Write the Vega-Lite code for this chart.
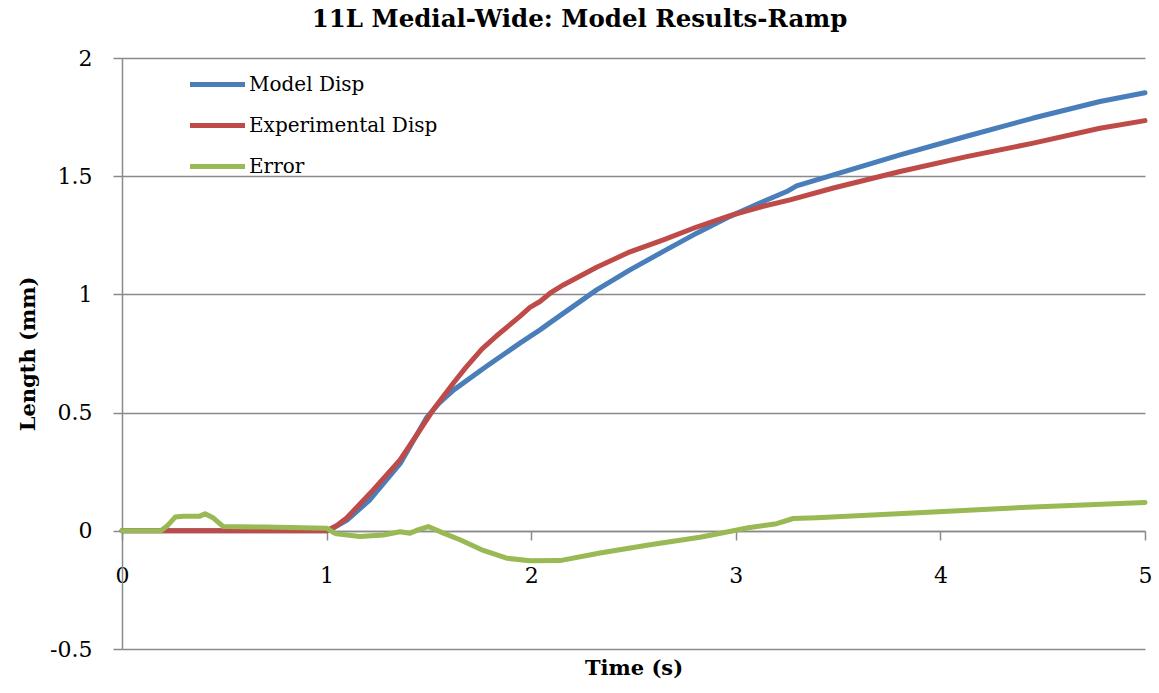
{
  "$schema": "https://vega.github.io/schema/vega-lite/v6.json",
  "width": 1023,
  "height": 591,
  "autosize": {"type": "none"},
  "padding": {"left": 122, "top": 58, "right": 14, "bottom": 44},
  "background": "white",
  "title": {
    "text": "11L Medial-Wide: Model Results-Ramp",
    "font": "DejaVu Serif",
    "fontSize": 24.5,
    "fontWeight": "bold",
    "color": "#000000",
    "anchor": "middle",
    "frame": "group",
    "dx": -54,
    "offset": 15
  },
  "config": {
    "view": {"stroke": null},
    "axis": {
      "labelFont": "DejaVu Serif",
      "labelFontSize": 22,
      "labelColor": "#000000",
      "titleFont": "DejaVu Serif",
      "titleFontSize": 21,
      "titleFontWeight": "bold",
      "titleColor": "#000000",
      "domainColor": "#8a8a8a",
      "domainWidth": 1.5,
      "tickColor": "#8a8a8a",
      "tickWidth": 1.5,
      "gridColor": "#8a8a8a",
      "gridWidth": 1.5
    }
  },
  "data": {
    "values": [
      {"series": "Model Disp", "t": 0, "v": 0},
      {"series": "Model Disp", "t": 1.0, "v": 0},
      {"series": "Model Disp", "t": 1.03, "v": 0.01},
      {"series": "Model Disp", "t": 1.1, "v": 0.045},
      {"series": "Model Disp", "t": 1.21, "v": 0.13},
      {"series": "Model Disp", "t": 1.36, "v": 0.285},
      {"series": "Model Disp", "t": 1.49, "v": 0.48},
      {"series": "Model Disp", "t": 1.55, "v": 0.54},
      {"series": "Model Disp", "t": 1.62, "v": 0.595},
      {"series": "Model Disp", "t": 1.78, "v": 0.695},
      {"series": "Model Disp", "t": 1.945, "v": 0.794},
      {"series": "Model Disp", "t": 2.043, "v": 0.85},
      {"series": "Model Disp", "t": 2.108, "v": 0.89},
      {"series": "Model Disp", "t": 2.32, "v": 1.019},
      {"series": "Model Disp", "t": 2.483, "v": 1.104},
      {"series": "Model Disp", "t": 2.646, "v": 1.182},
      {"series": "Model Disp", "t": 2.809, "v": 1.259},
      {"series": "Model Disp", "t": 2.972, "v": 1.33},
      {"series": "Model Disp", "t": 3.134, "v": 1.393},
      {"series": "Model Disp", "t": 3.249, "v": 1.435},
      {"series": "Model Disp", "t": 3.297, "v": 1.459},
      {"series": "Model Disp", "t": 3.477, "v": 1.506},
      {"series": "Model Disp", "t": 3.803, "v": 1.59},
      {"series": "Model Disp", "t": 4.128, "v": 1.669},
      {"series": "Model Disp", "t": 4.454, "v": 1.746},
      {"series": "Model Disp", "t": 4.78, "v": 1.816},
      {"series": "Model Disp", "t": 5.0, "v": 1.853},
      {"series": "Experimental Disp", "t": 0, "v": 0},
      {"series": "Experimental Disp", "t": 1.0, "v": 0},
      {"series": "Experimental Disp", "t": 1.05, "v": 0.022},
      {"series": "Experimental Disp", "t": 1.098, "v": 0.054},
      {"series": "Experimental Disp", "t": 1.228, "v": 0.173},
      {"series": "Experimental Disp", "t": 1.359, "v": 0.3},
      {"series": "Experimental Disp", "t": 1.457, "v": 0.427},
      {"series": "Experimental Disp", "t": 1.521, "v": 0.512},
      {"series": "Experimental Disp", "t": 1.62, "v": 0.625},
      {"series": "Experimental Disp", "t": 1.68, "v": 0.69},
      {"series": "Experimental Disp", "t": 1.76, "v": 0.77},
      {"series": "Experimental Disp", "t": 1.831, "v": 0.825},
      {"series": "Experimental Disp", "t": 1.945, "v": 0.907},
      {"series": "Experimental Disp", "t": 1.994, "v": 0.945},
      {"series": "Experimental Disp", "t": 2.043, "v": 0.97},
      {"series": "Experimental Disp", "t": 2.1, "v": 1.01},
      {"series": "Experimental Disp", "t": 2.157, "v": 1.04},
      {"series": "Experimental Disp", "t": 2.32, "v": 1.115},
      {"series": "Experimental Disp", "t": 2.483, "v": 1.18},
      {"series": "Experimental Disp", "t": 2.646, "v": 1.231},
      {"series": "Experimental Disp", "t": 2.809, "v": 1.285},
      {"series": "Experimental Disp", "t": 2.972, "v": 1.333},
      {"series": "Experimental Disp", "t": 3.134, "v": 1.373},
      {"series": "Experimental Disp", "t": 3.265, "v": 1.4},
      {"series": "Experimental Disp", "t": 3.477, "v": 1.45},
      {"series": "Experimental Disp", "t": 3.803, "v": 1.52},
      {"series": "Experimental Disp", "t": 4.128, "v": 1.583},
      {"series": "Experimental Disp", "t": 4.454, "v": 1.64},
      {"series": "Experimental Disp", "t": 4.78, "v": 1.703},
      {"series": "Experimental Disp", "t": 5.0, "v": 1.735},
      {"series": "Error", "t": 0, "v": 0},
      {"series": "Error", "t": 0.19, "v": 0},
      {"series": "Error", "t": 0.22, "v": 0.02},
      {"series": "Error", "t": 0.26, "v": 0.058},
      {"series": "Error", "t": 0.3, "v": 0.062},
      {"series": "Error", "t": 0.38, "v": 0.062},
      {"series": "Error", "t": 0.406, "v": 0.072},
      {"series": "Error", "t": 0.447, "v": 0.054},
      {"series": "Error", "t": 0.495, "v": 0.018},
      {"series": "Error", "t": 0.7, "v": 0.016},
      {"series": "Error", "t": 1.0, "v": 0.011},
      {"series": "Error", "t": 1.033, "v": -0.007},
      {"series": "Error", "t": 1.049, "v": -0.013},
      {"series": "Error", "t": 1.163, "v": -0.024},
      {"series": "Error", "t": 1.277, "v": -0.018},
      {"series": "Error", "t": 1.359, "v": -0.004},
      {"series": "Error", "t": 1.408, "v": -0.01},
      {"series": "Error", "t": 1.45, "v": 0.005},
      {"series": "Error", "t": 1.497, "v": 0.018},
      {"series": "Error", "t": 1.571, "v": -0.01},
      {"series": "Error", "t": 1.652, "v": -0.038},
      {"series": "Error", "t": 1.766, "v": -0.083},
      {"series": "Error", "t": 1.88, "v": -0.116},
      {"series": "Error", "t": 1.994, "v": -0.127},
      {"series": "Error", "t": 2.141, "v": -0.126},
      {"series": "Error", "t": 2.336, "v": -0.094},
      {"series": "Error", "t": 2.581, "v": -0.059},
      {"series": "Error", "t": 2.825, "v": -0.027},
      {"series": "Error", "t": 2.988, "v": 0.0},
      {"series": "Error", "t": 3.061, "v": 0.013},
      {"series": "Error", "t": 3.2, "v": 0.03},
      {"series": "Error", "t": 3.281, "v": 0.052},
      {"series": "Error", "t": 3.395, "v": 0.055},
      {"series": "Error", "t": 3.965, "v": 0.08},
      {"series": "Error", "t": 4.454, "v": 0.101},
      {"series": "Error", "t": 5.0, "v": 0.12}
    ]
  },
  "mark": {"type": "line", "strokeWidth": 5, "strokeCap": "round", "strokeJoin": "round"},
  "encoding": {
    "x": {
      "field": "t",
      "type": "quantitative",
      "scale": {"domain": [0, 5], "nice": false, "zero": false},
      "axis": {
        "title": "Time (s)",
        "values": [0, 1, 2, 3, 4, 5],
        "grid": false,
        "offset": -118,
        "tickSize": 9,
        "labelBaseline": "middle",
        "labelPadding": 35,
        "labelFlush": false,
        "labelOverlap": false,
        "titleBaseline": "middle",
        "titleY": 137
      }
    },
    "y": {
      "field": "v",
      "type": "quantitative",
      "scale": {"domain": [-0.5, 2], "nice": false, "zero": false},
      "axis": {
        "title": "Length (mm)",
        "values": [-0.5, 0, 0.5, 1, 1.5, 2],
        "format": ".1~f",
        "grid": true,
        "tickSize": 9,
        "labelPadding": 21,
        "labelFlush": false,
        "labelOverlap": false,
        "labelExpr": "replace(datum.label, '\u2212', '-')",
        "titleBaseline": "middle",
        "titleX": -94,
        "titleY": 295.5,
        "titleAngle": -90
      }
    },
    "color": {
      "field": "series",
      "type": "nominal",
      "sort": ["Model Disp", "Experimental Disp", "Error"],
      "scale": {
        "domain": ["Model Disp", "Experimental Disp", "Error"],
        "range": ["#4a7ebb", "#be4b48", "#98b954"]
      },
      "legend": {
        "title": null,
        "orient": "none",
        "legendX": 82,
        "legendY": 13,
        "padding": 0,
        "symbolType": "M-2.5,0L2.5,0",
        "symbolSize": 484,
        "symbolStrokeWidth": 5,
        "symbolFillColor": "transparent",
        "labelFont": "DejaVu Serif",
        "labelFontSize": 20,
        "labelColor": "#000000",
        "labelLimit": 400,
        "labelOffset": 18,
        "rowPadding": 17
      }
    }
  }
}
